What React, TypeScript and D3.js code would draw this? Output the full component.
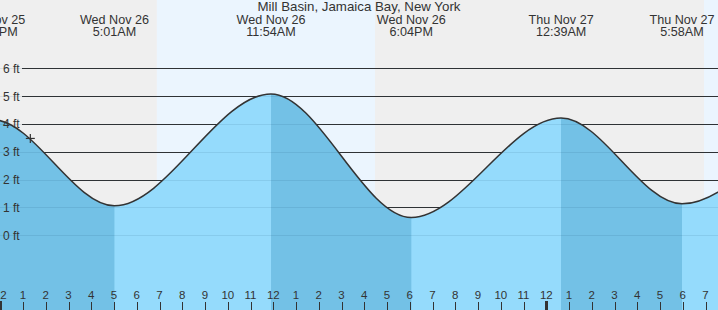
import React from "react";
import * as d3 from "d3";

const W = 718;
const H = 310;

// Tide extremes: hours since midnight Wed Nov 26, height in ft
const tideHours = [-6.45, -0.32, 5.017, 11.9, 18.067, 24.65, 29.967, 36.8, 43.0];
const tideFeet = [0.9, 4.15, 1.06, 5.08, 0.64, 4.21, 1.13, 4.25, 0.8];
const tideDayLabels = ["", "Tue Nov 25", "Wed Nov 26", "Wed Nov 26", "Wed Nov 26", "Thu Nov 27", "Thu Nov 27", "", ""];
const tideTimeLabels = ["", "11:41PM", "5:01AM", "11:54AM", "6:04PM", "12:39AM", "5:58AM", "", ""];

// Daylight periods (hours)
const dayStarts = [6.88, 30.93];
const dayEnds = [16.47, 40];

const ftTicks = [0, 1, 2, 3, 4, 5, 6];
const hourTicks = d3.range(0, 32);

const nowHour = 1.32;
const nowFeet = 3.48;

const title = "Mill Basin, Jamaica Bay, New York";

const FONT = "'Liberation Sans', Arial, sans-serif";
const TEXT = "#333";

export default function App() {
  const x = d3.scaleLinear().domain([0, 1]).range([0.3, 23.05]);
  const y = d3.scaleLinear().domain([0, 6]).range([235.3, 68.3]);

  const pts = tideHours.map((h, i) => [h, tideFeet[i]] as [number, number]);
  const area = d3
    .area<[number, number]>()
    .x((d) => x(d[0]))
    .y0(H)
    .y1((d) => y(d[1]))
    .curve(d3.curveMonotoneX);
  const line = d3
    .line<[number, number]>()
    .x((d) => x(d[0]))
    .y((d) => y(d[1]))
    .curve(d3.curveMonotoneX);

  const falling: [number, number][] = [];
  for (let i = 0; i < tideHours.length - 1; i++) {
    if (tideFeet[i] > tideFeet[i + 1]) falling.push([tideHours[i], tideHours[i + 1]]);
  }

  return (
    <svg
      width={W}
      height={H}
      style={{ position: "absolute", left: 0, top: 0, display: "block" }}
      fontFamily={FONT}
    >
      <defs>
        <clipPath id="plot">
          <rect x={0} y={0} width={W} height={H} />
        </clipPath>
        {falling.map((f, i) => (
          <clipPath id={`fall${i}`} key={i}>
            <rect x={x(f[0])} y={0} width={x(f[1]) - x(f[0])} height={H} />
          </clipPath>
        ))}
      </defs>
      <g clipPath="url(#plot)">
        <rect x={0} y={0} width={W} height={H} fill="#efefef" />
        {dayStarts.map((s, i) => (
          <rect key={i} x={x(s)} y={0} width={x(dayEnds[i]) - x(s)} height={H} fill="#ebf5fe" />
        ))}
        {ftTicks.map((f) => (
          <line key={f} x1={22} x2={W} y1={Math.round(y(f)) + 0.5} y2={Math.round(y(f)) + 0.5} stroke="#333" strokeWidth={1} />
        ))}
        <path d={area(pts) ?? ""} fill="#95dbfc" />
        {falling.map((_, i) => (
          <path key={i} d={area(pts) ?? ""} fill="#73c1e6" clipPath={`url(#fall${i})`} />
        ))}
        {ftTicks.map((f) => (
          <line key={f} x1={0} x2={W} y1={Math.round(y(f)) + 0.5} y2={Math.round(y(f)) + 0.5} stroke="rgba(0,40,80,0.09)" strokeWidth={1} />
        ))}
        <path d={line(pts) ?? ""} fill="none" stroke="#333" strokeWidth={1.5} />
        {/* current time marker */}
        <g stroke="#333" strokeWidth={1.2}>
          <line x1={x(nowHour) - 4.5} x2={x(nowHour) + 4.5} y1={y(nowFeet)} y2={y(nowFeet)} />
          <line x1={x(nowHour)} x2={x(nowHour)} y1={y(nowFeet) - 4.5} y2={y(nowFeet) + 4.5} />
        </g>
        {ftTicks.map((f) => (
          <text key={f} x={3} y={y(f) + 4.4} fontSize={12} fill={TEXT}>
            {`${f} ft`}
          </text>
        ))}
        {hourTicks.map((h) => (
          <g key={h}>
            <line
              x1={Math.round(x(h)) + 0.5}
              x2={Math.round(x(h)) + 0.5}
              y1={h % 24 === 0 ? 301 : 302}
              y2={H}
              stroke="#333"
              strokeWidth={h % 24 === 0 ? 3 : 1}
            />
            <text x={x(h)} y={299} fontSize={11.5} textAnchor="middle" fill={TEXT}>
              {String(h % 12 === 0 ? 12 : h % 12)}
            </text>
          </g>
        ))}
        {tideHours.map((h, i) =>
          tideDayLabels[i] ? (
            <g key={i}>
              <text x={x(h)} y={23.5} fontSize={12.6} textAnchor="middle" fill={TEXT}>
                {tideDayLabels[i]}
              </text>
              <text x={x(h)} y={36} fontSize={12.6} textAnchor="middle" fill={TEXT}>
                {tideTimeLabels[i]}
              </text>
            </g>
          ) : null
        )}
        <text x={W / 2} y={11} fontSize={13.3} textAnchor="middle" fill={TEXT}>
          {title}
        </text>
      </g>
    </svg>
  );
}
